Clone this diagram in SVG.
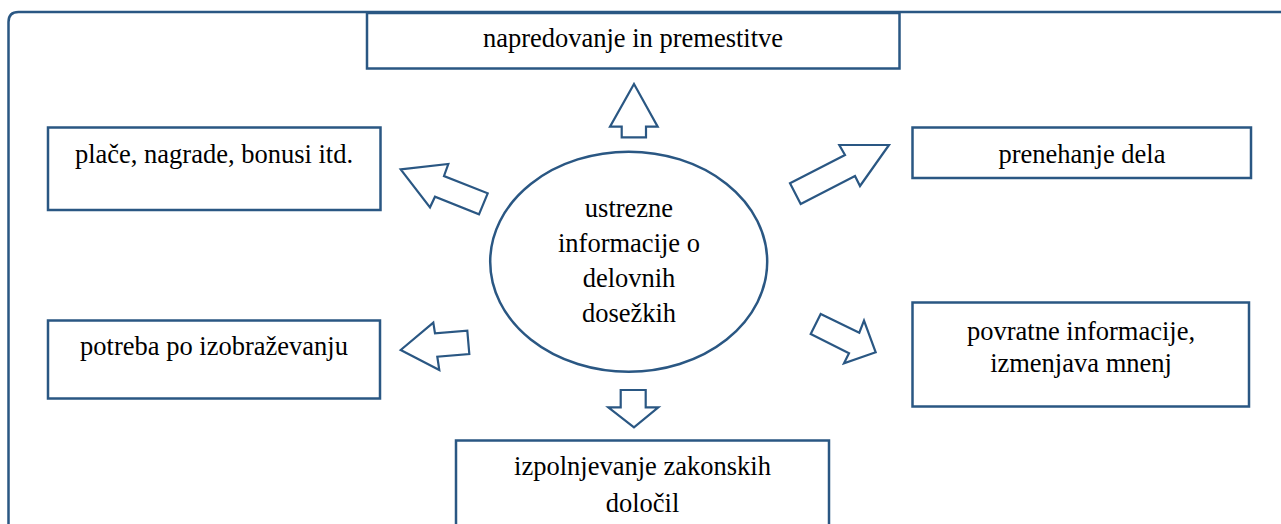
<svg xmlns="http://www.w3.org/2000/svg" width="1281" height="524" viewBox="0 0 1281 524">
<style>
.box{fill:#fff;stroke:#2a5783;stroke-width:2.5}
.arr{fill:#fff;stroke:#2a5783;stroke-width:2.2;stroke-linejoin:miter}
.frame{fill:none;stroke:#2a5783;stroke-width:2.5}
text{font-family:"Liberation Serif","Times New Roman",serif;font-size:26.5px;fill:#000;text-anchor:middle}
</style>
<rect width="1281" height="524" fill="#fff"/>
<path class="frame" d="M8.5,540 V22 Q8.5,12 18.5,12 H1300"/>
<g id="center">
<ellipse class="box" cx="628.7" cy="261.7" rx="138.5" ry="110"/>
<text x="629" y="216.7">ustrezne</text>
<text x="629" y="251.7">informacije o</text>
<text x="629" y="286.7">delovnih</text>
<text x="629" y="321.7">dosežkih</text>
</g>
<g id="n-top">
<rect class="box" x="367" y="13" width="532.5" height="55.5"/>
<text x="633" y="47">napredovanje in premestitve</text>
</g>
<g id="n-place">
<rect class="box" x="48" y="127.5" width="332.5" height="82.5"/>
<text x="214" y="163.3">plače, nagrade, bonusi itd.</text>
</g>
<g id="n-prenehanje">
<rect class="box" x="912.5" y="127.5" width="338.5" height="50.5"/>
<text x="1082" y="163.3">prenehanje dela</text>
</g>
<g id="n-izobrazevanje">
<rect class="box" x="48" y="320.5" width="332" height="78"/>
<text x="214" y="355">potreba po izobraževanju</text>
</g>
<g id="n-povratne">
<rect class="box" x="912.5" y="302.5" width="336.5" height="104"/>
<text x="1081" y="340">povratne informacije,</text>
<text x="1081" y="371.7">izmenjava mnenj</text>
</g>
<g id="n-zakon">
<rect class="box" x="456" y="440.5" width="373" height="100"/>
<text x="642.5" y="475">izpolnjevanje zakonskih</text>
<text x="642.5" y="511.7">določil</text>
</g>
<g id="connectors">
<polygon class="arr" points="634,84 657.7,126.7 646,126.7 646,137.3 621.7,137.3 621.7,126.7 610,126.7"/>
<polygon class="arr" points="400.7,169.3 448.3,164 444,176 487.7,193.3 479,214.3 435,196.7 430,207.3"/>
<polygon class="arr" points="889,145 839.3,145 845,155 790,183.3 800.7,204 855,176 860,186"/>
<polygon class="arr" points="400.7,350 433.3,322.7 435,333.3 467.3,330.7 469.3,354 437.3,356.7 439.3,370"/>
<polygon class="arr" points="875.7,352.3 844,363.3 849,353.3 810.7,334 820.7,314 859.3,332.7 864,320.7"/>
<polygon class="arr" points="634,427.3 608.3,407.3 620.7,407.3 620.7,390 645.7,390 645.7,407.3 658.3,407.3"/>
</g>
</svg>
